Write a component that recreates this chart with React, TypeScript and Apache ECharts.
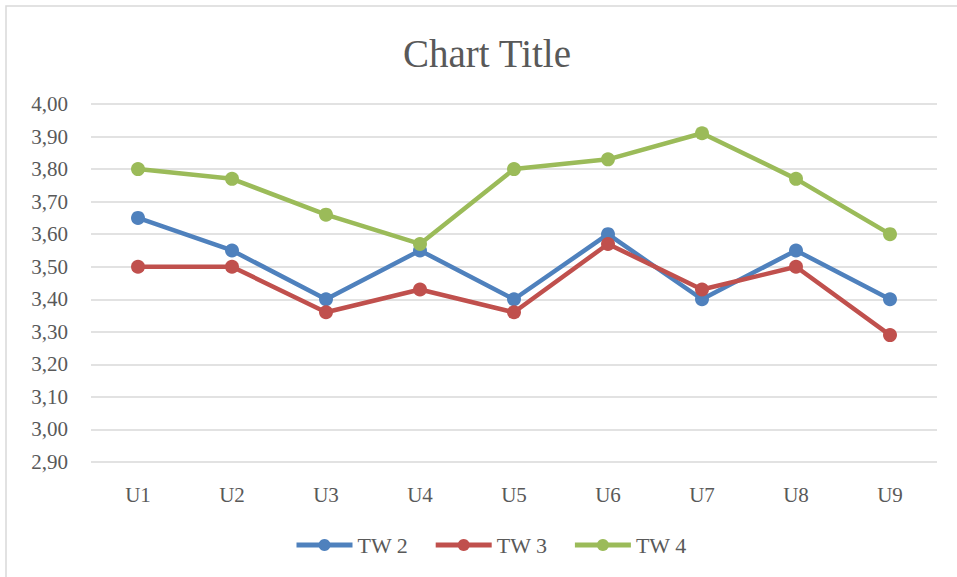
import React, { useEffect, useRef } from "react";
import * as echarts from "echarts";

const categories = ["U1", "U2", "U3", "U4", "U5", "U6", "U7", "U8", "U9"];
const tw2 = [3.65, 3.55, 3.4, 3.55, 3.4, 3.6, 3.4, 3.55, 3.4];
const tw3 = [3.5, 3.5, 3.36, 3.43, 3.36, 3.57, 3.43, 3.5, 3.29];
const tw4 = [3.8, 3.77, 3.66, 3.57, 3.8, 3.83, 3.91, 3.77, 3.6];
const seriesNames = ["TW 2", "TW 3", "TW 4"];
const colors = ["#4F81BD", "#C0504D", "#9BBB59"];

const FONT = "'Liberation Serif', 'DejaVu Serif', serif";

export default function App() {
  const ref = useRef<HTMLDivElement>(null);
  useEffect(() => {
    document.body.style.margin = "0";
    const chart = echarts.init(ref.current!, null, { renderer: "svg" });
    const data = [tw2, tw3, tw4];
    chart.setOption({
      animation: false,
      backgroundColor: "#ffffff",
      title: {
        text: "Chart Title",
        left: 398,
        top: 29,
        textStyle: { fontFamily: FONT, fontSize: 39, fontWeight: "normal", color: "#595959" },
      },
      legend: {
        bottom: 16,
        left: 289,
        itemWidth: 56,
        itemHeight: 15,
        itemGap: 25,
        lineStyle: { width: 5 },
        textStyle: { fontFamily: FONT, fontSize: 22, color: "#595959" },
        data: seriesNames,
      },
      grid: { left: 91, right: 20, top: 104, bottom: 115, containLabel: false },
      xAxis: {
        type: "category",
        data: categories,
        axisLine: { show: false },
        axisTick: { show: false },
        axisLabel: { fontFamily: FONT, fontSize: 21, color: "#595959", margin: 22 },
      },
      yAxis: {
        type: "value",
        min: 2.9,
        max: 4.0,
        interval: 0.1,
        axisLine: { show: false },
        axisTick: { show: false },
        splitLine: { lineStyle: { color: "#D9D9D9", width: 1.5 } },
        axisLabel: {
          fontFamily: FONT,
          fontSize: 21,
          color: "#595959",
          margin: 23,
          formatter: (v: number) => v.toFixed(2).replace(".", ","),
        },
      },
      series: seriesNames.map((name, i) => ({
        name,
        type: "line",
        data: data[i],
        color: colors[i],
        symbol: "circle",
        symbolSize: 14,
        lineStyle: { width: 4.5, color: colors[i] },
        itemStyle: { color: colors[i] },
      })),
      graphic: [
        {
          type: "rect",
          shape: { x: 6, y: 6, width: 960, height: 580 },
          style: { fill: "none", stroke: "#D9D9D9", lineWidth: 1.5 },
          silent: true,
        },
      ],
    });
    return () => chart.dispose();
  }, []);
  return (
    <div style={{ position: "fixed", left: 0, top: 0, width: 957, height: 577 }}>
      <div ref={ref} style={{ width: 957, height: 577 }} />
    </div>
  );
}
